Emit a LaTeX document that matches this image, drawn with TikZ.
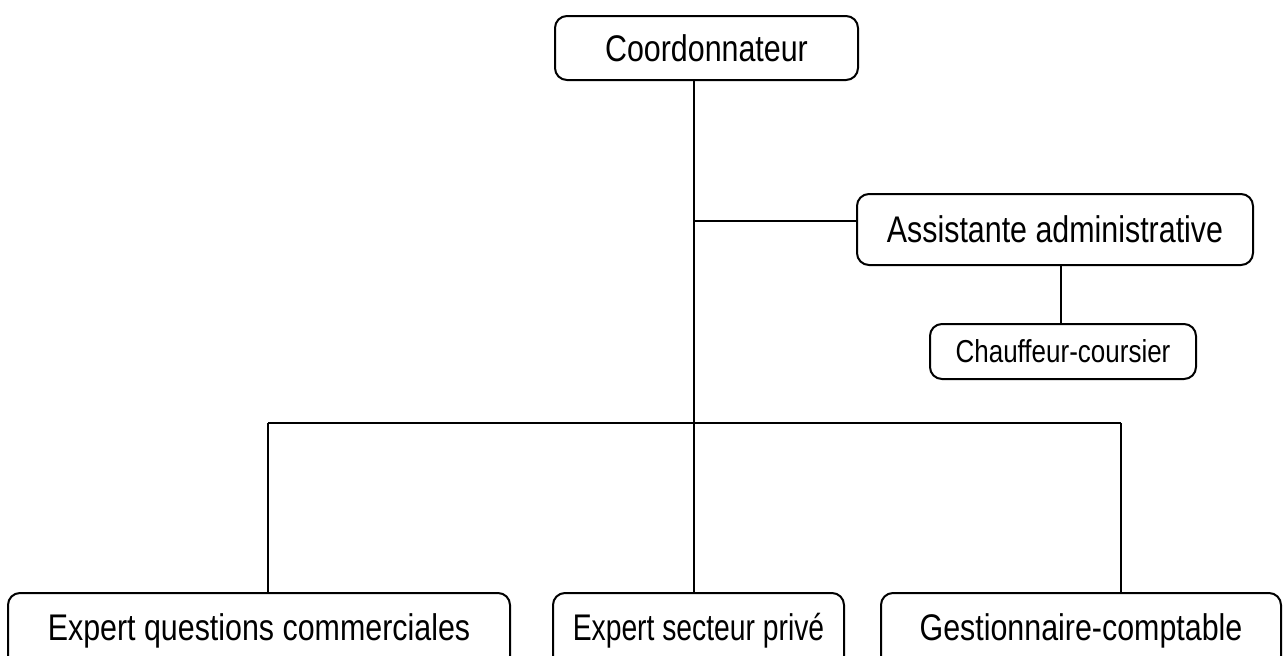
\documentclass[tikz,border=0pt]{standalone}
\usepackage{fontspec}
\setmainfont{Liberation Sans}
\newcommand{\tallt}[1]{\scalebox{1}[1.22]{#1}}
\newcommand{\narrowt}[1]{\scalebox{0.93}[1.22]{#1}}
\begin{document}
\begin{tikzpicture}[x=0.5pt,y=-0.5pt,
  box/.style={draw=black,line width=1pt,rounded corners=6pt,fill=white,inner sep=0pt,align=center,
    font=\fontsize{15.2}{18}\selectfont},
  smallbox/.style={box,font=\fontsize{13}{16}\selectfont},
  link/.style={draw=black,line width=1pt}]
\useasboundingbox (0,0) rectangle (1287,655);
\clip (0,0) rectangle (1287,655);
\node[box,minimum width=151.5pt,minimum height=32pt] (coord) at (706.5,48) {\tallt{Coordonnateur}};
\node[box,minimum width=198pt,minimum height=35.5pt] (assist) at (1055,229.5) {\tallt{Assistante administrative}};
\node[smallbox,minimum width=133pt,minimum height=27.5pt] (chauf) at (1063,351.5) {\tallt{Chauffeur-coursier}};
\node[box,minimum width=251pt,minimum height=37.5pt] (eqc) at (259,630.5) {\tallt{Expert questions commerciales}};
\node[box,minimum width=145.5pt,minimum height=37.5pt] (esp) at (698.5,630.5) {\narrowt{Expert secteur privé}};
\node[box,minimum width=200pt,minimum height=37.5pt] (gc) at (1081,630.5) {\tallt{Gestionnaire-comptable}};
\coordinate (j1) at (694,221);
\coordinate (j2) at (694,423);
\coordinate (jl) at (268,423);
\coordinate (jr) at (1121,423);
\coordinate (a1) at (1061,300);
\draw[link] (coord.south -| j1) -- (j2);
\draw[link] (j1) -- (j1 -| assist.west);
\draw[link] (assist.south -| a1) -- (chauf.north -| a1);
\draw[link] (jl) -- (jr);
\draw[link] (jl) -- (eqc.north -| jl);
\draw[link] (j2) -- (esp.north -| j2);
\draw[link] (jr) -- (gc.north -| jr);
\end{tikzpicture}
\end{document}
